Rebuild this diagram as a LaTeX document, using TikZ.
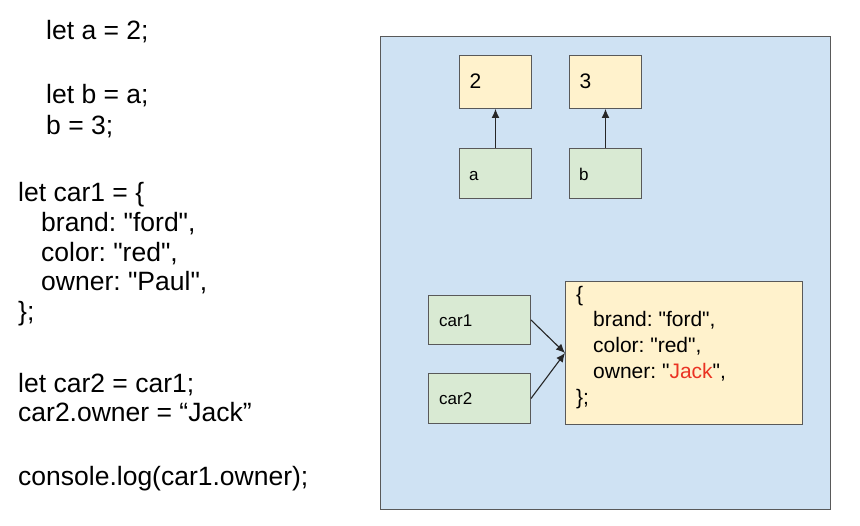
\documentclass[tikz,border=0pt]{standalone}
\usepackage{fontspec}
\setmainfont{Liberation Sans}[Ligatures=TeXOff]
\usetikzlibrary{arrows.meta}
\definecolor{bgblue}{HTML}{CFE2F3}
\definecolor{boxyellow}{HTML}{FFF2CC}
\definecolor{boxgreen}{HTML}{D9EAD3}
\definecolor{edgegray}{HTML}{595959}
\definecolor{jackred}{HTML}{EA3323}
\frenchspacing
\begin{document}
\begin{tikzpicture}[x=1pt,y=-1pt,
  box/.style={draw=edgegray,line width=1pt,inner sep=0pt,anchor=north west},
  valbox/.style={box,fill=boxyellow},
  varbox/.style={box,fill=boxgreen},
  code/.style={anchor=base west,inner sep=0pt,font=\fontsize{26.5}{30}\selectfont\frenchspacing},
  objtxt/.style={anchor=base west,inner sep=0pt,font=\fontsize{21}{26}\selectfont\frenchspacing},
  lbl/.style={anchor=base west,inner sep=0pt,font=\fontsize{17}{20}\selectfont},
  ptr/.style={draw=black!85,line width=1.1pt,-{Latex[length=9pt,width=8pt]}}]
\useasboundingbox (0,0) rectangle (860,526);
\fill[white] (0,0) rectangle (860,526);
% code listing
\node[code] (l1) at (46,40) {let a = 2;};
\node[code] (l2) at (46,104) {let b = a;};
\node[code] (l3) at (46,135) {b = 3;};
\node[code] (l4) at (18,201.5) {let car1 = \{};
\node[code] (l5) at (41,232) {brand: "ford",};
\node[code] (l6) at (41,261.5) {color: "red",};
\node[code] (l7) at (41,291) {owner: "Paul",};
\node[code] (l8) at (18,320.5) {\};};
\node[code] (l9) at (18,392.5) {let car2 = car1;};
\node[code] (l10) at (18,422) {car2.owner = “Jack”};
\node[code] (l11) at (18,485.5) {console.log(car1.owner);};
% memory panel
\node[box,fill=bgblue,minimum width=450pt,minimum height=473pt] (mem) at (380,36) {};
\node[valbox,minimum width=72pt,minimum height=53pt] (v2) at (459,55) {};
\node[valbox,minimum width=72pt,minimum height=53pt] (v3) at (569,55) {};
\node[varbox,minimum width=72pt,minimum height=50pt] (va) at (459,148) {};
\node[varbox,minimum width=72pt,minimum height=50pt] (vb) at (569,148) {};
\node[objtxt] (t2) at (469.5,89) {2};
\node[objtxt] (t3) at (579.5,89) {3};
\node[lbl] (ta) at (469,181) {a};
\node[lbl] (tb) at (579,181) {b};
\draw[ptr] (va) -- (v2);
\draw[ptr] (vb) -- (v3);
\node[varbox,minimum width=102pt,minimum height=49pt] (c1) at (428,295) {};
\node[varbox,minimum width=102pt,minimum height=50pt] (c2) at (428,373) {};
\node[valbox,minimum width=237pt,minimum height=143pt] (obj) at (565,281) {};
\node[lbl] (tc1) at (439,327) {car1};
\node[lbl] (tc2) at (439,405) {car2};
\node[objtxt] (o1) at (576,302) {\{};
\node[objtxt] (o2) at (593,327) {brand: "ford",};
\node[objtxt] (o3) at (593,353) {color: "red",};
\node[objtxt] (o4) at (593,379) {owner: "\textcolor{jackred}{Jack}",};
\node[objtxt] (o5) at (576,405) {\};};
\draw[ptr] (c1.east) -- (obj.west);
\draw[ptr] (c2.east) -- (obj.west);
\end{tikzpicture}
\end{document}
